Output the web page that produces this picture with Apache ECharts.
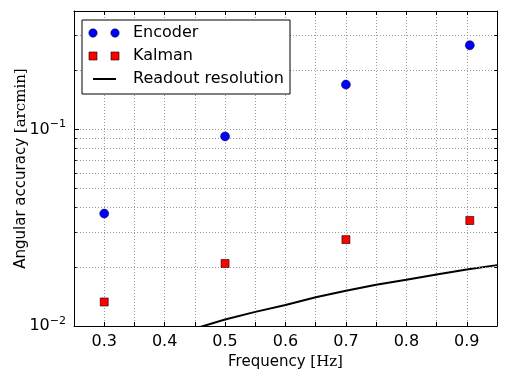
<!DOCTYPE html>
<html lang="en">
<head>
<meta charset="utf-8">
<title>Angular accuracy</title>
<script src="https://cdn.jsdelivr.net/npm/echarts@6/dist/echarts.min.js"></script>
<style>
  html, body { margin: 0; padding: 0; background: #fff; }
  #chart { width: 509px; height: 382px; }
</style>
</head>
<body>
<div id="chart"></div>
<script>
// values
var freqs = [0.3, 0.5, 0.7, 0.905];
var encoder = [0.0373, 0.0921, 0.169, 0.268];
var kalman = [0.01325, 0.0208, 0.0275, 0.0344];
var readoutFreq = [0.45, 0.5, 0.55, 0.6, 0.65, 0.7, 0.75, 0.8, 0.85, 0.9, 0.95];
var readoutRes = [0.0097, 0.0108, 0.0118, 0.0128, 0.0140, 0.0151, 0.0162, 0.0172, 0.0183, 0.0194, 0.0204];
var minorY = [0.02, 0.03, 0.04, 0.05, 0.06, 0.07, 0.08, 0.09, 0.2, 0.3];
var legendNames = ['Encoder', 'Kalman', 'Readout resolution'];

var font = 'DejaVu Sans';
var chart = echarts.init(document.getElementById('chart'));

function pairs(xs, ys) {
  return xs.map(function (x, i) { return [x, ys[i]]; });
}

// minor grid lines + little inside ticks on both sides
var minorLines = [];
minorY.forEach(function (v) {
  minorLines.push({ yAxis: v });
});
var minorTicks = [];
minorY.forEach(function (v) {
  minorTicks.push([{ coord: [0.25, v] }, { coord: [0.2545, v] }]);
  minorTicks.push([{ coord: [0.9455, v] }, { coord: [0.95, v] }]);
});

function powLabel(v) {
  var e = Math.round(Math.log10(v));
  if (Math.abs(Math.log10(v) - e) > 1e-6) return '';
  return '10{sup|' + (e < 0 ? '\u2212' + (-e) : e) + '}';
}
function tenth(i, v) { return Math.round(v * 100) % 10 === 0; }

// legend box drawn by hand (matplotlib style: two markers per entry)
var lx = 82, ly = 20;
var legend = [
  { type: 'rect', shape: { x: lx, y: ly, width: 208, height: 74 }, style: { fill: '#fff', stroke: '#000', lineWidth: 1 } }
];
[0, 1].forEach(function (k) {
  var cx = lx + 11 + k * 22;
  legend.push({ type: 'circle', shape: { cx: cx, cy: ly + 13, r: 4.2 }, style: { fill: '#0000ff', stroke: '#000', lineWidth: 0.5 } });
  legend.push({ type: 'rect', shape: { x: cx - 4, y: ly + 32, width: 8, height: 8 }, style: { fill: '#ff0000', stroke: '#000', lineWidth: 0.6 } });
});
legend.push({ type: 'line', shape: { x1: lx + 11, y1: ly + 59, x2: lx + 34, y2: ly + 59 }, style: { stroke: '#000', lineWidth: 2 } });
legendNames.forEach(function (n, i) {
  legend.push({ type: 'text', x: lx + 51, y: ly + 13 + i * 23, style: { text: n, fontFamily: font, fontSize: 16, fill: '#000', verticalAlign: 'middle' } });
});

chart.setOption({
  animation: false,
  textStyle: { fontFamily: font },
  grid: { left: 74, right: 12, top: 11, bottom: 56, outerBoundsMode: 'none', containLabel: false },
  graphic: legend.map(function (g) { g.z = 100; g.silent = true; return g; }),
  xAxis: [{
    type: 'value', min: 0.25, max: 0.95, interval: 0.05,
    name: 'Frequency {s|[Hz]}', nameLocation: 'middle', nameGap: 29, nameMoveOverlap: false,
    nameTextStyle: { fontFamily: font, fontSize: 15, color: '#000', rich: { s: { fontFamily: 'DejaVu Serif', fontSize: 15 } } },
    axisLine: { show: true, onZero: false, lineStyle: { color: '#000', width: 1 } },
    axisTick: { inside: true, length: 4, lineStyle: { color: '#000' }, interval: tenth },
    axisLabel: {
      fontSize: 16, color: '#000', margin: 8,
      formatter: function (v) { return Math.round(v * 100) % 10 === 0 && v > 0.26 && v < 0.94 ? v.toFixed(1) : ''; }
    },
    splitLine: { show: true, interval: tenth, lineStyle: { color: '#9a9a9a', type: [1, 2] } }
  }, {
    type: 'value', min: 0.25, max: 0.95, interval: 0.05, position: 'top',
    axisLine: { show: true, lineStyle: { color: '#000', width: 1 } },
    axisTick: { inside: true, length: 4, lineStyle: { color: '#000' }, interval: tenth },
    axisLabel: { show: false },
    splitLine: { show: false }
  }],
  yAxis: [{
    type: 'log', logBase: 10, min: 0.01, max: 0.4,
    name: 'Angular accuracy {s|[arcmin]}', nameLocation: 'middle', nameGap: 45, nameRotate: 90, nameMoveOverlap: false,
    nameTextStyle: { fontFamily: font, fontSize: 15, color: '#000', rich: { s: { fontFamily: 'DejaVu Serif', fontSize: 15 } } },
    axisLine: { show: true, lineStyle: { color: '#000', width: 1 } },
    axisTick: { inside: true, length: 5, lineStyle: { color: '#000' } },
    axisLabel: {
      fontSize: 16, color: '#000', margin: 8,
      formatter: powLabel,
      rich: { sup: { fontSize: 11, padding: [0, 0, 10, 0] } }
    },
    splitLine: { show: true, lineStyle: { color: '#9a9a9a', type: [1, 2] } }
  }, {
    type: 'log', logBase: 10, min: 0.01, max: 0.4, position: 'right',
    axisLine: { show: true, lineStyle: { color: '#000', width: 1 } },
    axisTick: { inside: true, length: 5, lineStyle: { color: '#000' } },
    axisLabel: { show: false },
    splitLine: { show: false }
  }],
  series: [{
    name: 'Readout resolution',
    type: 'line',
    data: pairs(readoutFreq, readoutRes),
    showSymbol: false, symbol: 'none',
    clip: true,
    lineStyle: { color: '#000', width: 2 },
    z: 3,
    markLine: {
      silent: true, symbol: 'none', label: { show: false },
      lineStyle: { color: '#9a9a9a', type: [1, 2], width: 1 },
      data: minorLines
    }
  }, {
    name: 'ticks',
    type: 'line',
    data: [],
    markLine: {
      silent: true, symbol: 'none', label: { show: false },
      lineStyle: { color: '#000', type: 'solid', width: 1 },
      data: minorTicks
    }
  }, {
    name: 'Encoder',
    type: 'scatter',
    data: pairs(freqs, encoder),
    symbol: 'circle', symbolSize: 9,
    itemStyle: { color: '#0000ff', borderColor: '#000', borderWidth: 0.5, opacity: 1 },
    z: 5
  }, {
    name: 'Kalman',
    type: 'scatter',
    data: pairs(freqs, kalman),
    symbol: 'rect', symbolSize: 8,
    itemStyle: { color: '#ff0000', borderColor: '#000', borderWidth: 0.6, opacity: 1 },
    z: 5
  }]
});
</script>
</body>
</html>
